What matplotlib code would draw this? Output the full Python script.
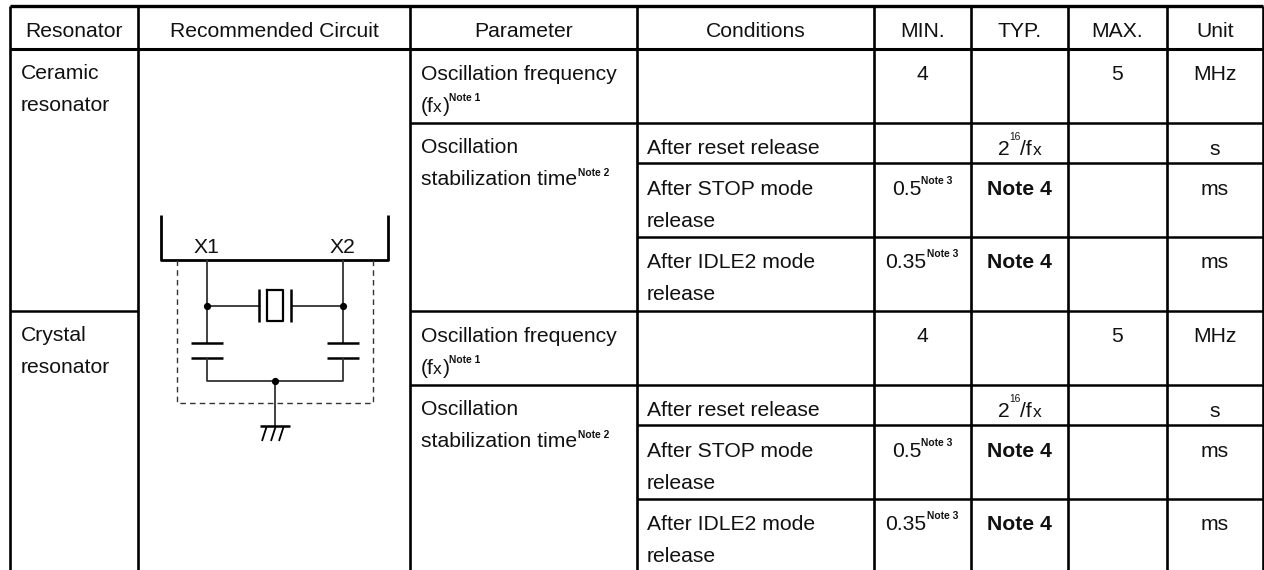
import matplotlib
matplotlib.use("Agg")
import matplotlib.pyplot as plt

W, H = 1264, 570
INK = "#111111"
WIRE = "#333333"
FS = 15.2
plt.rcParams["font.family"] = ["Liberation Sans", "DejaVu Sans"]

# table grid, in image pixels
COLS = [10, 138, 410, 637, 874, 971, 1068, 1167, 1263]
ROWS = [6, 49, 123, 163, 237, 311, 385, 425, 499, 570]
BLOCK_SHIFT = 262                      # second resonator block sits this far below

HEADERS = ["Resonator", "Recommended Circuit", "Parameter", "Conditions",
           "MIN.", "TYP.", "MAX.", "Unit"]
RESONATORS = ["Ceramic", "Crystal"]
CONDITIONS = ["After reset release", "After STOP mode", "After IDLE2 mode"]
MINS = ["0.5", "0.35"]
FREQ_MIN, FREQ_MAX, FREQ_UNIT = "4", "5", "MHz"
UNITS = ["s", "ms", "ms"]

fig = plt.figure(figsize=(W / 100, H / 100), dpi=100)
ax = fig.add_axes([0, 0, 1, 1])
ax.set_xlim(0, W)
ax.set_ylim(H, 0)
ax.axis("off")


def line(x, y, lw=1.3, color="black"):
    ax.plot(x, y, color=color, lw=lw, solid_capstyle="butt")


def txt(x, y, s, ha="left", size=FS, weight="normal"):
    ax.text(x, y, s, ha=ha, va="baseline", fontsize=size, fontweight=weight, color=INK)


def note(x, y, s):
    ax.text(x, y, s, ha="left", va="center", fontsize=7.4, fontweight="bold", color=INK)


# grid
for x in COLS:
    line([x, x], [ROWS[0], H], lw=1.9)
line([COLS[0], COLS[-1]], [ROWS[0], ROWS[0]], lw=2.4)
line([COLS[0], COLS[-1]], [ROWS[1], ROWS[1]], lw=2.2)
for y in (ROWS[2], ROWS[5], ROWS[6]):
    line([COLS[2], COLS[-1]], [y, y], lw=1.8)
for y in (ROWS[3], ROWS[4], ROWS[7], ROWS[8]):
    line([COLS[3], COLS[-1]], [y, y], lw=1.8)
line([COLS[0], COLS[1]], [ROWS[5], ROWS[5]], lw=1.8)

# header
centers = [(COLS[i] + COLS[i + 1]) / 2 for i in range(len(HEADERS))]
for c, h in zip(centers, HEADERS):
    txt(c, 37, h, ha="center")

# the two resonator blocks have the same layout
for k, res in enumerate(RESONATORS):
    d = k * BLOCK_SHIFT
    txt(21, 79 + d, res)
    txt(21, 111 + d, "resonator")

    txt(421, 80 + d, "Oscillation frequency")
    txt(421, 112 + d, "(f")
    txt(433, 112 + d, "x", size=12.5)
    txt(443, 112 + d, ")")
    note(449, 98 + d, "Note 1")
    txt(centers[4], 80 + d, FREQ_MIN, ha="center")
    txt(centers[6], 80 + d, FREQ_MAX, ha="center")
    txt(centers[7], 80 + d, FREQ_UNIT, ha="center")

    txt(421, 153 + d, "Oscillation")
    txt(421, 185 + d, "stabilization time")
    note(578, 173 + d, "Note 2")

    # after reset release
    txt(647, 154 + d, CONDITIONS[0])
    txt(998, 155 + d, "2")
    ax.text(1009, 137 + d, "16", fontsize=7.4, color=INK, va="center")
    txt(1020, 155 + d, "/f")
    txt(1033, 155 + d, "x", size=12.5)
    txt(centers[7], 155 + d, UNITS[0], ha="center")

    # after STOP / IDLE2 mode release
    for base, cnd, mn, mx, u in zip((195, 268), CONDITIONS[1:], MINS, (892, 885), UNITS[1:]):
        txt(647, base + d, cnd)
        txt(647, base + 32 + d, "release")
        txt(mx, base + d, mn)
        note(921 if mn == "0.5" else 927, base - 14 + d, "Note 3")
        txt(centers[5], base + d, "Note 4", ha="center", weight="bold")
        txt(centers[7], base + d, u, ha="center")

# circuit
line([161, 161, 388, 388], [215, 260, 260, 215], lw=2.0)
txt(194, 253, "X1")
txt(330, 253, "X2")
ax.plot([177, 177, 373, 373], [260, 403, 403, 260], color=WIRE, lw=1.0, ls=(0, (4, 3)))
line([207, 207], [260, 343], color=WIRE)
line([343, 343], [260, 343], color=WIRE)
line([207, 259], [306, 306], color=WIRE)
line([291, 343], [306, 306], color=WIRE)
line([259, 259], [289, 322], lw=1.8)
line([291, 291], [289, 322], lw=1.8)
ax.plot([267, 283, 283, 267, 267], [290, 290, 321, 321, 290], color="black", lw=1.6)
for x0, x1 in ((191, 223), (327, 359)):
    line([x0, x1], [343, 343], lw=1.8)
    line([x0, x1], [358, 358], lw=1.8)
line([207, 207, 343, 343], [358, 381, 381, 358], color=WIRE)
line([275, 275], [381, 426], color=WIRE)
line([260, 290], [426, 426], lw=1.8)
for x in (262, 271, 279):
    line([x + 4.5, x], [427, 441], lw=1.3)
ax.plot([207, 343, 275], [306, 306, 381], "o", color="black", ms=4.2, ls="none")

fig.savefig("out.png", dpi=100, facecolor="white")
